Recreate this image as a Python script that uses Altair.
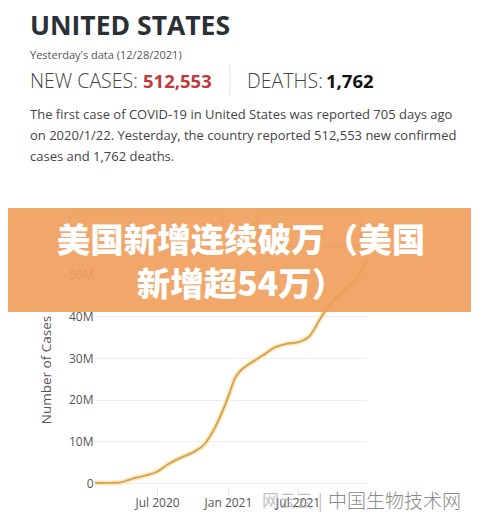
import altair as alt
import pandas as pd

# ---- data (cumulative US cases, millions) ----
dates = ["2020-01-22", "2020-03-01", "2020-03-25", "2020-04-15", "2020-05-01", "2020-06-01",
         "2020-07-01", "2020-08-01", "2020-09-01", "2020-10-01", "2020-11-01", "2020-12-01",
         "2021-01-01", "2021-01-20", "2021-02-01", "2021-03-01", "2021-04-01", "2021-05-01",
         "2021-06-01", "2021-07-01", "2021-08-01", "2021-09-01", "2021-10-01", "2021-11-01",
         "2021-12-01", "2021-12-28"]
cases_m = [0.0, 0.03, 0.07, 0.64, 1.1, 1.8,
           2.7, 4.6, 6.1, 7.3, 9.3, 13.8,
           20.5, 25.3, 26.8, 28.8, 30.6, 32.5,
           33.4, 33.8, 35.3, 40.0, 43.8, 46.4,
           49.0, 53.6]
y_ticks = [0, 10, 20, 30, 40, 50]
x_ticks = [(2020, 7), (2021, 1), (2021, 7)]

country = "UNITED STATES"
subtitle = "Yesterday's data (12/28/2021)"
new_cases = "512,553"
deaths = "1,762"
paragraph = [
    "The first case of COVID-19 in United States was reported 705 days ago",
    "on 2020/1/22. Yesterday, the country reported 512,553 new confirmed",
    "cases and 1,762 deaths.",
]
banner = ["美国新增连续破万（美国", "新增超54万）"]

df = pd.DataFrame({"date": dates, "cases": cases_m})
ONE = pd.DataFrame({"a": [0]})

X0, Y0 = 95, 254  # plot origin in page pixels (used for annotations only)
W, H = 272, 229


def txt(s, x, y, size, color, weight="normal", font="Open Sans", align="left",
        angle=None, opacity=1.0):
    kw = dict(text=s, fontSize=size, color=color, fontWeight=weight, font=font,
              align=align, baseline="alphabetic", opacity=opacity)
    if angle is not None:
        kw["angle"] = angle
    return alt.Chart(ONE).mark_text(**kw).encode(x=alt.value(x - X0), y=alt.value(y - Y0))


def box(x1, y1, x2, y2, fill, stroke=None, opacity=1.0):
    kw = dict(fill=fill, opacity=opacity)
    if stroke:
        kw["stroke"] = stroke
        kw["strokeWidth"] = 1
    return alt.Chart(ONE).mark_rect(**kw).encode(
        x=alt.value(x1 - X0), x2=alt.value(x2 - X0), y=alt.value(y1 - Y0), y2=alt.value(y2 - Y0))


x_enc = alt.X(
    "date:T",
    scale=alt.Scale(type="utc", domain=[alt.DateTime(year=2020, month=1, date=22, utc=True),
                                        alt.DateTime(year=2021, month=12, date=28, utc=True)]),
    axis=alt.Axis(title=None, values=[alt.DateTime(year=y, month=m, date=1, utc=True) for y, m in x_ticks],
                  labelExpr="utcFormat(datum.value, '%b %Y')", grid=False, domain=False,
                  ticks=True, tickSize=8, tickColor="#e6e6e6", offset=4, labelPadding=2,
                  labelFont="Open Sans", labelFontSize=12, labelColor="#555"),
)
y_enc = alt.Y(
    "cases:Q",
    scale=alt.Scale(domain=[0, 55], nice=False),
    axis=alt.Axis(title=None, values=y_ticks, labelExpr="datum.value == 0 ? '0' : datum.value + 'M'",
                  grid=True, gridColor="#ececec", domain=False, ticks=False, labelPadding=2,
                  labelFont="Open Sans", labelFontSize=12, labelColor="#555"),
)

base = alt.Chart(df).encode(x=x_enc, y=y_enc)
halo = base.mark_line(color="#FBE6B4", strokeWidth=5, interpolate="monotone", opacity=0.9)
core = base.mark_line(color="#D3A04E", strokeWidth=1.8, interpolate="monotone")

layers = [
    halo, core,
    txt("Number of Cases", 51, 370, 13.5, "#555", align="center", angle=270),
    # header
    txt(country, 30, 35, 26.5, "#2b3036", weight="bold"),
    txt(subtitle, 30, 59, 11, "#555"),
    txt("NEW CASES:", 30, 88, 19.5, "#444", weight=300),
    txt(new_cases, 143, 88, 18.5, "#c0393b", weight="bold"),
    alt.Chart(ONE).mark_rule(color="#dddddd").encode(
        x=alt.value(230 - X0), y=alt.value(64 - Y0), y2=alt.value(96 - Y0)),
    txt("DEATHS:", 247, 88, 19.5, "#444", weight=300),
    txt(deaths, 326, 88, 18.5, "#111", weight="bold"),
    txt(paragraph[0], 30, 119, 13, "#444"),
    txt(paragraph[1], 30, 140, 13, "#444"),
    txt(paragraph[2], 30, 161, 13, "#444"),
    # dropdown boxes under banner
    box(70, 213, 222, 246, "white", "#aaaaaa"),
    box(258, 213, 361, 246, "white", "#aaaaaa"),
    # banner
    box(0, 208, 479, 312, "#EF9D5A", opacity=0.9),
    txt(banner[0], 241, 252, 33.5, "white", weight=900, font="Noto Sans CJK SC", align="center"),
    txt(banner[1], 241, 296, 33.5, "white", weight=900, font="Noto Sans CJK SC", align="center"),
    # watermark
    txt("网云云", 262, 507, 17, "#9a9a9a", font="Noto Sans CJK SC", opacity=0.6),
    txt("|", 318, 507, 17, "#bbbbbb", font="Noto Sans CJK SC"),
    txt("中国生物技术网", 328, 508, 19, "#8a8a8a", font="Noto Sans CJK SC", weight=300),
]

chart = alt.layer(*layers).properties(
    width=W, height=H,
    padding={"left": X0 - 8, "top": Y0 - 8, "right": 479 - 16 - (X0 - 8) - W, "bottom": 30},
    autosize=alt.AutoSizeParams(type="none"),
    background="white",
).configure_view(stroke=None)

chart.save("out.html", embed_options={"renderer": "svg", "actions": False})
